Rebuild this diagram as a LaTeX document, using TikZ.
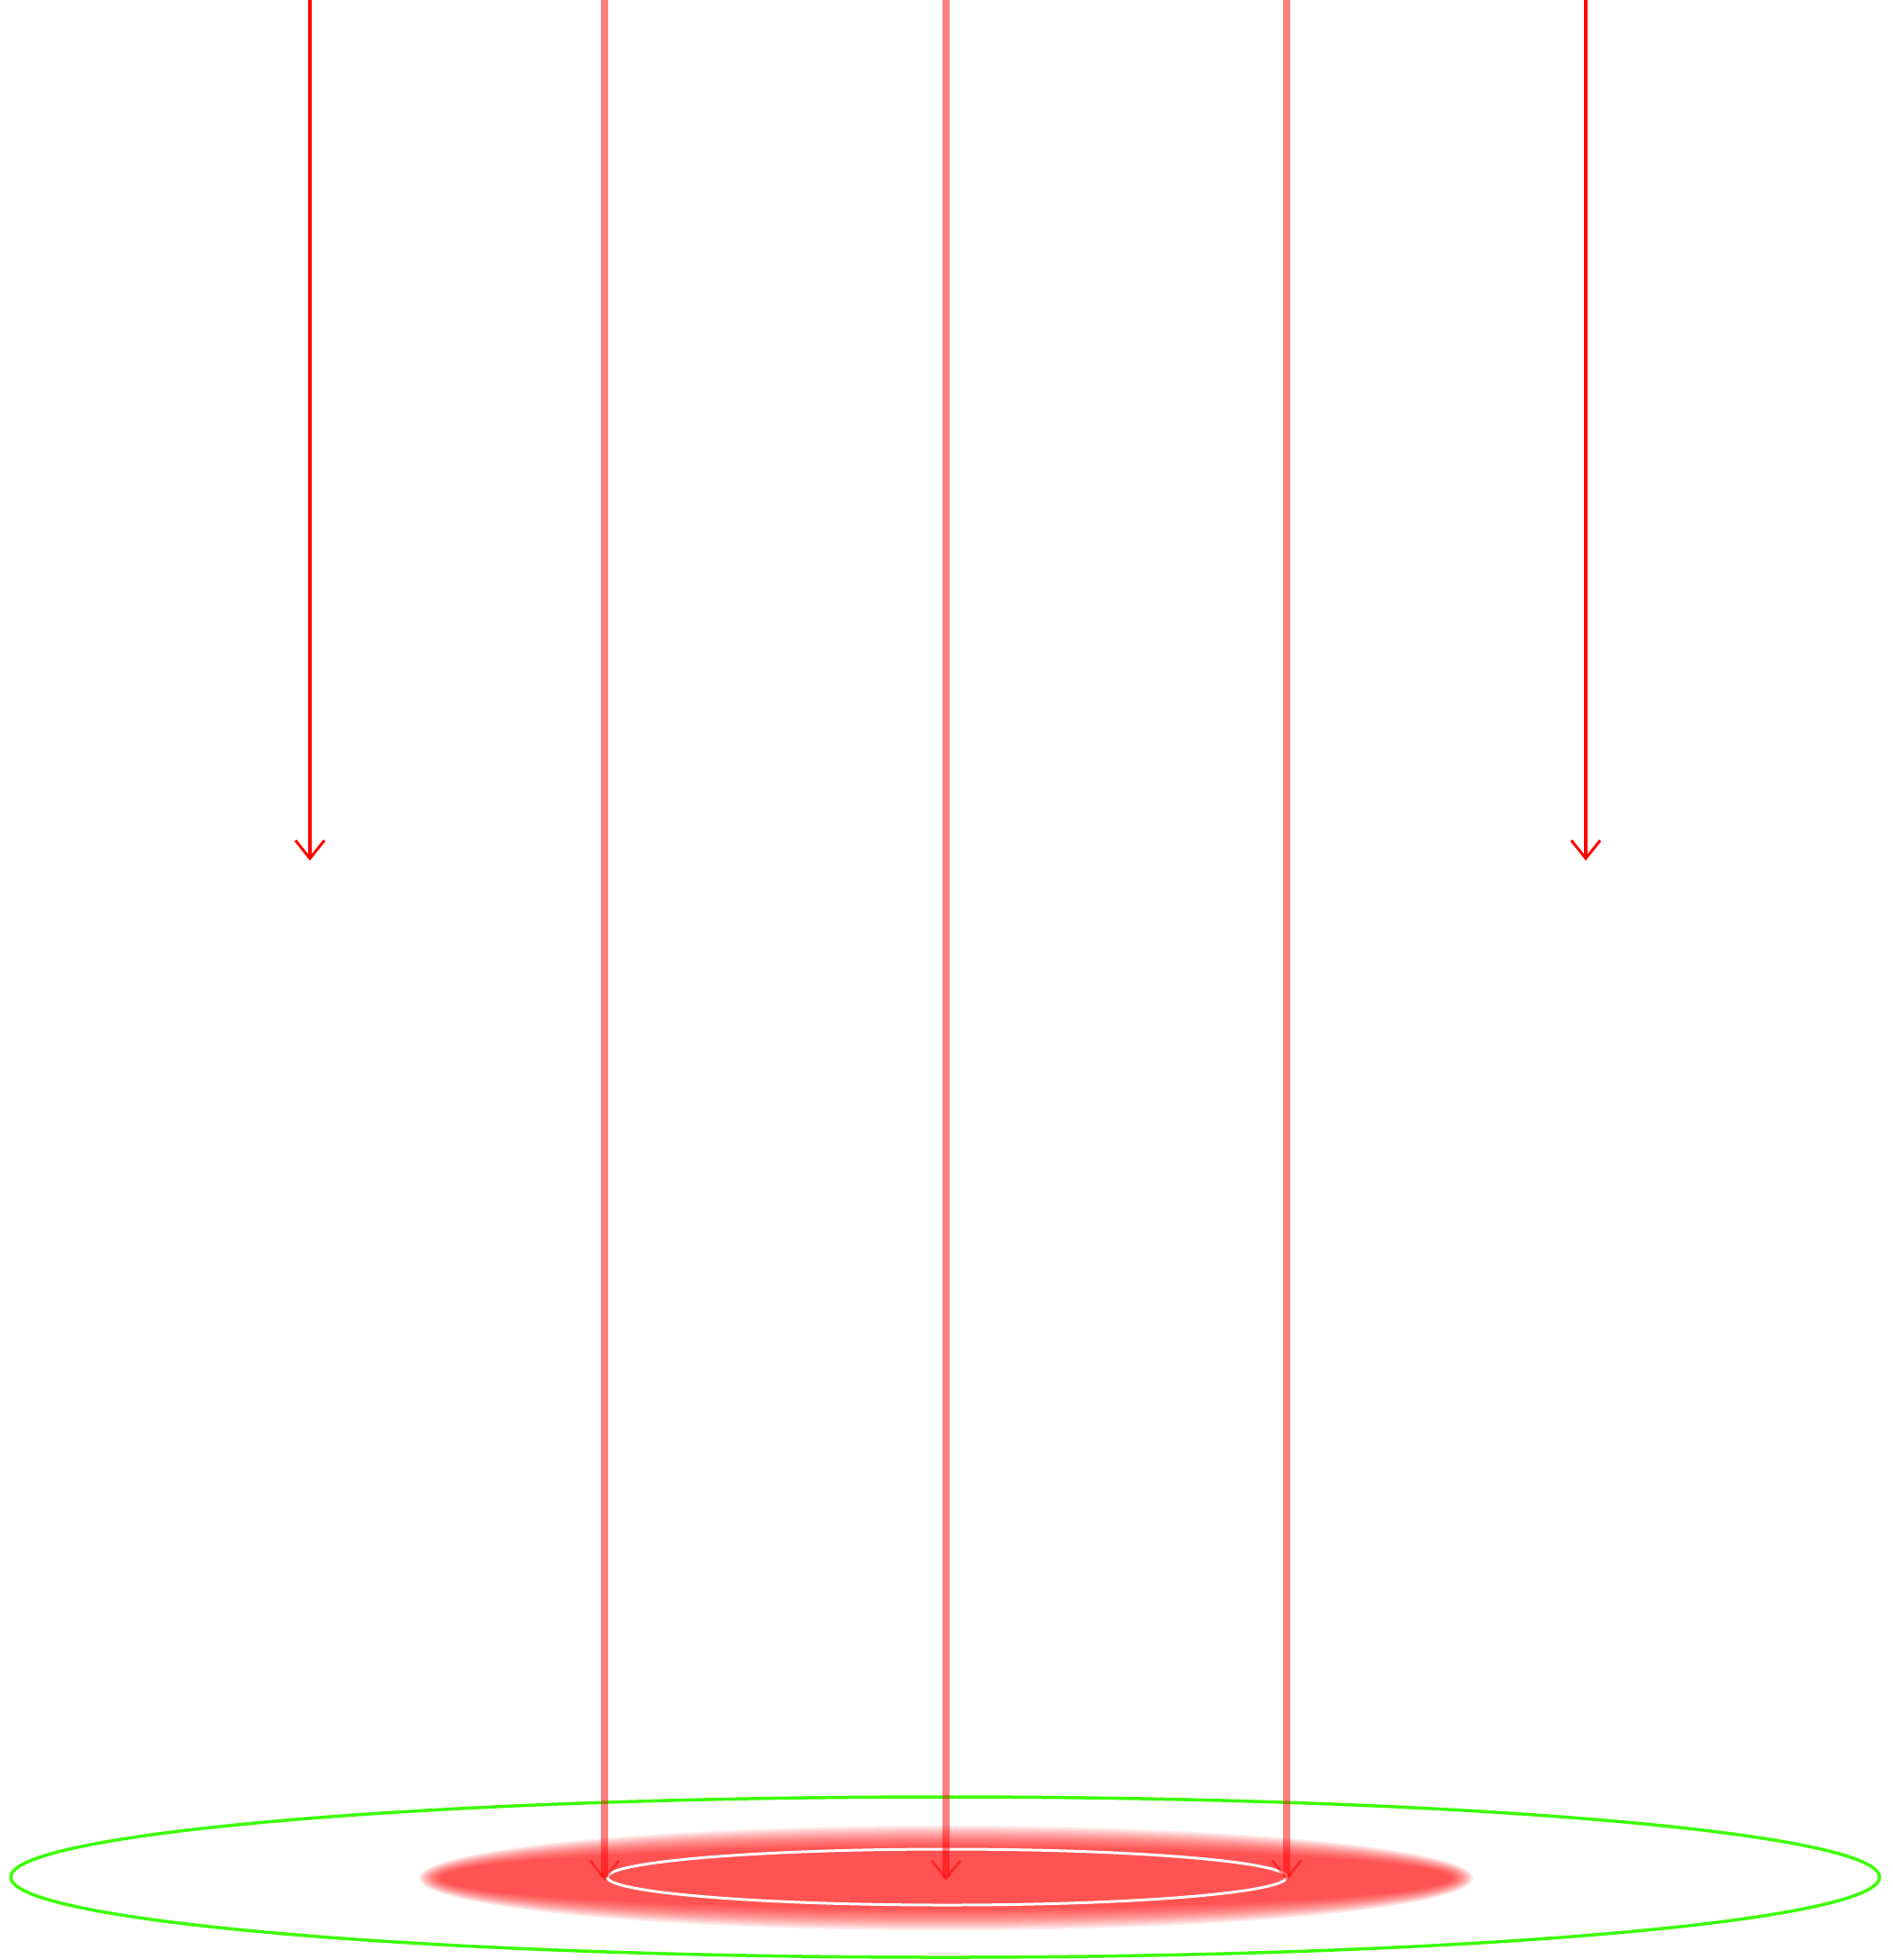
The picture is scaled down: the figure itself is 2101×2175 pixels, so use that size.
\documentclass[tikz,border=0pt]{standalone}
\usetikzlibrary{arrows.meta}
\definecolor{grn}{RGB}{60,255,0}
\begin{document}
\begin{tikzpicture}[x=0.01cm,y=-0.01cm,
  tipstyle/.style={-{Straight Barb[length=0.2cm,width=0.32cm,line width=0.03cm]}},
  thinray/.style={tipstyle, red, line width=0.035cm},
  thickray/.style={tipstyle, red, draw opacity=0.5, line width=0.08cm},
  ring/.style={grn, line width=0.035cm}]
\useasboundingbox (0,0) rectangle (2101,2175);
% blurred red spot
\foreach \d in {-12,-10,...,12}
  \fill[red, fill opacity=0.084] (1050,2084) ellipse [x radius=573+\d, y radius=46+\d];
% inner white ellipse
\draw[white, line width=0.03cm] (1051,2083) ellipse [x radius=377, y radius=31];
% outer green ellipse
\draw[ring] (1049,2083) ellipse [x radius=1037, y radius=89];
% coordinates
\coordinate (a1) at (344,0);   \coordinate (b1) at (344,955);
\coordinate (a5) at (1760,0);  \coordinate (b5) at (1760,955);
\coordinate (a2) at (671,0);   \coordinate (b2) at (671,2087);
\coordinate (a3) at (1050,0);  \coordinate (b3) at (1050,2087);
\coordinate (a4) at (1428,0);  \coordinate (b4) at (1428,2087);
\draw[thinray] (a1) -- (b1);
\draw[thinray] (a5) -- (b5);
\draw[thickray] (a2) -- (b2);
\draw[thickray] (a3) -- (b3);
\draw[thickray] (a4) -- (b4);
\end{tikzpicture}
\end{document}
